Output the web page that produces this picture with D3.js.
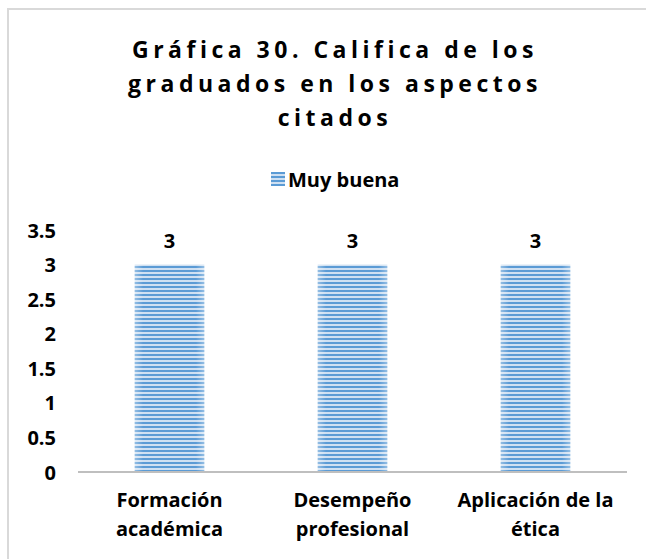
<!DOCTYPE html>
<html>
<head>
<meta charset="utf-8">
<script src="https://cdn.jsdelivr.net/npm/d3@7"></script>
<style>
  body { margin: 0; background: #fff; }
  text { font-family: "Open Sans", Lato, sans-serif; font-weight: bold; fill: #000; }
</style>
</head>
<body>
<svg id="chart" width="646" height="559"></svg>
<script>
// datos de la gráfica
const categories = ['Formación académica', 'Desempeño profesional', 'Aplicación de la ética'];
const categoryLines = [['Formación', 'académica'], ['Desempeño', 'profesional'], ['Aplicación de la', 'ética']];
const seriesName = 'Muy buena';
const values = [3, 3, 3];
const yTicks = [0, 0.5, 1, 1.5, 2, 2.5, 3, 3.5];
const titleLines = ['Gráfica 30. Califica de los', 'graduados en los aspectos', 'citados'];

const svg = d3.select('#chart');

// patrón de rayas horizontales
const defs = svg.append('defs');
const pat = defs.append('pattern')
  .attr('id', 'stripes')
  .attr('patternUnits', 'userSpaceOnUse')
  .attr('width', 8).attr('height', 4);
pat.append('rect').attr('width', 8).attr('height', 4).attr('fill', '#cfe0f2');
pat.append('rect').attr('y', 0).attr('width', 8).attr('height', 2).attr('fill', '#5b9bd5');

const edge = defs.append('linearGradient').attr('id', 'edge');
edge.append('stop').attr('offset', '0%').attr('stop-color', '#fff').attr('stop-opacity', 0.35);
edge.append('stop').attr('offset', '12%').attr('stop-color', '#fff').attr('stop-opacity', 0);
edge.append('stop').attr('offset', '88%').attr('stop-color', '#fff').attr('stop-opacity', 0);
edge.append('stop').attr('offset', '100%').attr('stop-color', '#fff').attr('stop-opacity', 0.35);

// marco
svg.append('rect')
  .attr('x', 8).attr('y', 9)
  .attr('width', 660).attr('height', 580)
  .attr('fill', 'none')
  .attr('stroke', '#d9d9d9')
  .attr('stroke-width', 2);

// título (el espaciado deja un hueco al final, se compensa en x)
svg.append('g').selectAll('text')
  .data(titleLines)
  .enter().append('text')
  .attr('x', 335)
  .attr('y', (d, i) => 58 + i * 34)
  .attr('text-anchor', 'middle')
  .style('font-size', '23px')
  .style('letter-spacing', '4.5px')
  .text(d => d);

// leyenda
const legend = svg.append('g').attr('transform', 'translate(271,172)');
legend.append('rect').attr('width', 14).attr('height', 14).attr('fill', 'url(#stripes)');
legend.append('text').attr('x', 17).attr('y', 15).style('font-size', '20px').text(seriesName);

const margin = { left: 78, right: 19, top: 230, bottom: 87 };
const chartWidth = 646 - margin.left - margin.right;
const chartHeight = 559 - margin.top - margin.bottom;
const g = svg.append('g').attr('transform', `translate(${margin.left},${margin.top})`);

const x = d3.scaleBand().domain(categories).range([0, chartWidth]).paddingInner(0.62).paddingOuter(0.31);
const y = d3.scaleLinear().domain([0, 3.5]).range([chartHeight, 0]);

// barras
const bars = g.selectAll('.bar').data(values).enter();
bars.append('rect')
  .attr('x', (d, i) => x(categories[i]))
  .attr('y', d => y(d))
  .attr('width', x.bandwidth())
  .attr('height', d => chartHeight - y(d))
  .attr('fill', 'url(#stripes)');
bars.append('rect')
  .attr('x', (d, i) => x(categories[i]))
  .attr('y', d => y(d))
  .attr('width', x.bandwidth())
  .attr('height', d => chartHeight - y(d))
  .attr('fill', 'url(#edge)');

// etiquetas de datos
bars.append('text')
  .attr('x', (d, i) => x(categories[i]) + x.bandwidth() / 2)
  .attr('y', d => y(d) - 17)
  .attr('text-anchor', 'middle')
  .style('font-size', '20px')
  .text(d => d);

// eje y
const yAxis = g.append('g')
  .attr('class', 'yAxis')
  .call(d3.axisLeft(y).tickValues(yTicks).tickSize(0).tickPadding(22).tickFormat(d => d));
yAxis.select('.domain').remove();
yAxis.selectAll('text').style('font-size', '20px').attr('dy', '0.35em');

// eje x
g.append('line')
  .attr('x1', 0).attr('x2', chartWidth)
  .attr('y1', chartHeight).attr('y2', chartHeight)
  .attr('stroke', '#bfbfbf')
  .attr('stroke-width', 2);

const xl = g.append('g').selectAll('text')
  .data(categories)
  .enter().append('text')
  .attr('x', d => x(d) + x.bandwidth() / 2)
  .attr('y', chartHeight + 35)
  .attr('text-anchor', 'middle')
  .style('font-size', '20px');
xl.selectAll('tspan')
  .data((d, i) => categoryLines[i])
  .enter().append('tspan')
  .attr('x', function () { return d3.select(this.parentNode).attr('x'); })
  .attr('dy', (d, i) => i === 0 ? 0 : 29)
  .text(d => d);
</script>
</body>
</html>
